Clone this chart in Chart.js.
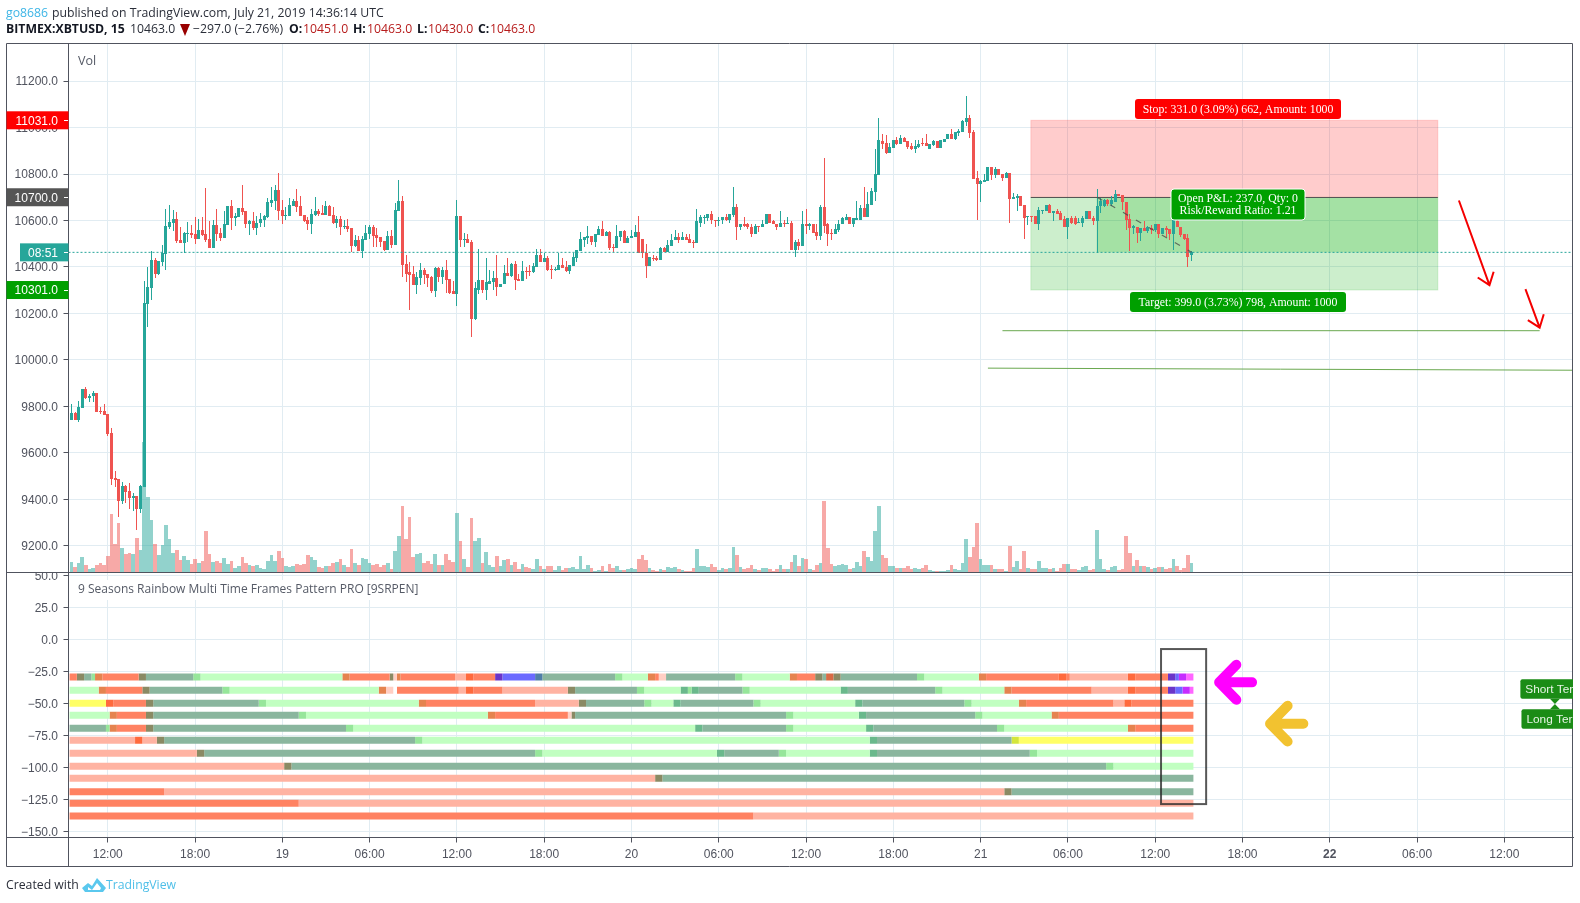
<!DOCTYPE html>
<html>
<head>
<meta charset="utf-8">
<title>XBTUSD 15</title>
<script src="https://cdn.jsdelivr.net/npm/chart.js@4"></script>
<style>
html,body{margin:0;padding:0;background:#fff;}
#wrap{position:relative;width:1580px;height:903px;overflow:hidden;}
canvas{position:absolute;left:0;top:0;}
.t{position:absolute;white-space:pre;font-family:"Open Sans",sans-serif;font-size:12.25px;line-height:16px;color:#2a2e39;}
.b{font-weight:700;color:#131722;}
.r{color:#b71c1c;}
</style>
</head>
<body>
<div id="wrap">
<canvas id="c" width="1580" height="903"></canvas>
<span class="t" style="left:6px;top:5px;color:#3db5e6;">go8686</span>
<span class="t" style="left:52px;top:5px;">published on TradingView.com, July 21, 2019 14:36:14 UTC</span>
<span class="t b" style="left:6px;top:21px;">BITMEX:XBTUSD, 15</span>
<span class="t" style="left:130px;top:21px;">10463.0</span>
<div style="position:absolute;left:180px;top:24px;width:0;height:0;border-left:5px solid transparent;border-right:5px solid transparent;border-top:12px solid #990000;"></div>
<span class="t" style="left:193px;top:21px;">−297.0 (−2.76%)</span>
<span class="t b" style="left:289px;top:21px;">O:</span><span class="t r" style="left:303px;top:21px;">10451.0</span>
<span class="t b" style="left:353px;top:21px;">H:</span><span class="t r" style="left:367px;top:21px;">10463.0</span>
<span class="t b" style="left:417px;top:21px;">L:</span><span class="t r" style="left:428px;top:21px;">10430.0</span>
<span class="t b" style="left:478px;top:21px;">C:</span><span class="t r" style="left:490px;top:21px;">10463.0</span>
<span class="t" style="left:6px;top:877px;">Created with</span>
<svg style="position:absolute;left:82px;top:878px" width="24" height="15" viewBox="0 0 24 15"><path d="M0 10 L6 5 L10 8 L15 0 L24 10 L21 14 L3 14 Z" fill="#5ac8ee"/><path d="M6 9 L10 12 L15 5 L19 10 L18 12 L6 12 Z" fill="#ffffff"/></svg>
<span class="t" style="left:106px;top:877px;color:#4fbfe8;">TradingView</span>
</div>
<script>
const opens=[9741,9770,9741,9793,9874,9837,9847,9857,9780,9780,9767,9686,9492,9488,9394,9458,9437,9407,9415,9360,
9454,10243,10308,10429,10372,10420,10456,10571,10588,10606,10515,10502,10541,10545,10541,10519,10558,10541,10519,10480,
10580,10545,10524,10580,10662,10610,10614,10653,10640,10584,10597,10567,10588,10602,10614,10675,10684,10731,10645,10619,
10619,10662,10684,10662,10623,10601,10584,10623,10640,10632,10623,10662,10623,10588,10606,10571,10576,10567,10489,10515,
10468,10515,10541,10571,10537,10528,10511,10472,10532,10493,10640,10684,10411,10377,10368,10321,10351,10385,10368,10355,
10295,10394,10355,10385,10347,10295,10286,10619,10515,10519,10506,10178,10303,10342,10303,10329,10334,10351,10312,10325,
10373,10360,10411,10347,10338,10381,10381,10377,10399,10450,10420,10437,10390,10385,10385,10407,10398,10381,10403,10437,
10468,10515,10524,10532,10506,10537,10563,10532,10550,10485,10480,10528,10554,10502,10524,10528,10550,10519,10459,10403,
10440,10440,10431,10483,10466,10492,10514,10527,10514,10527,10522,10509,10505,10591,10609,10609,10630,10604,10596,10600,
10613,10600,10622,10660,10570,10587,10587,10574,10544,10578,10570,10583,10626,10596,10587,10570,10591,10583,10591,10475,
10509,10492,10587,10578,10587,10552,10535,10660,10583,10548,10540,10561,10583,10604,10617,10587,10604,10604,10652,10617,
10665,10721,10794,10941,10932,10889,10911,10946,10928,10954,10941,10920,10907,10915,10932,10932,10909,10923,10944,10910,
10939,10949,10971,10949,10975,10980,11023,11041,10980,10784,10758,10767,10771,10828,10797,10823,10801,10784,10806,10693,
10697,10706,10667,10613,10619,10619,10584,10640,10640,10667,10632,10640,10632,10606,10571,10610,10610,10588,10588,10606,
10641,10610,10597,10662,10662,10688,10671,10680,10714,10710,10680,10606,10567,10571,10545,10567,10554,10567,10558,10584,
10541,10567,10562,10541,10597,10571,10540,10523,10451];
const highs=[9810,9776,9823,9874,9883,9853,9866,9857,9797,9810,9767,9707,9523,9488,9475,9463,9471,9428,9415,9463,
10338,10398,10468,10437,10424,10493,10649,10666,10645,10636,10571,10550,10593,10580,10614,10606,10614,10740,10597,10601,
10649,10567,10640,10662,10688,10632,10653,10753,10640,10601,10636,10619,10632,10623,10696,10744,10753,10804,10688,10658,
10696,10692,10735,10705,10623,10614,10649,10701,10649,10666,10684,10666,10658,10619,10619,10601,10606,10567,10537,10532,
10532,10580,10580,10580,10567,10528,10511,10554,10560,10675,10774,10705,10450,10420,10403,10377,10416,10394,10368,10360,
10398,10398,10398,10429,10347,10338,10688,10619,10545,10541,10515,10334,10476,10342,10437,10385,10381,10450,10329,10407,
10437,10416,10424,10368,10424,10398,10407,10416,10476,10476,10459,10446,10407,10398,10459,10437,10424,10407,10459,10472,
10550,10528,10576,10532,10541,10576,10597,10554,10554,10498,10580,10554,10558,10532,10558,10580,10619,10519,10498,10442,
10453,10449,10488,10488,10514,10540,10557,10548,10552,10544,10544,10514,10648,10622,10622,10630,10643,10604,10613,10617,
10626,10630,10743,10673,10587,10617,10591,10587,10587,10578,10604,10630,10626,10600,10587,10643,10604,10617,10596,10514,
10522,10639,10648,10591,10587,10583,10665,10868,10591,10565,10583,10604,10617,10630,10617,10609,10682,10665,10743,10721,
10738,10906,11040,10971,10967,10932,10946,10959,10967,10959,10941,10933,10946,10946,10955,10971,10928,10945,10944,10945,
10952,10971,10993,10980,10994,11032,11136,11054,10988,10815,10775,10801,10828,10828,10828,10823,10801,10810,10806,10719,
10714,10706,10667,10619,10619,10619,10658,10645,10667,10671,10640,10650,10640,10619,10610,10619,10619,10610,10619,10641,
10641,10619,10736,10697,10692,10692,10706,10732,10714,10710,10680,10627,10580,10571,10567,10597,10578,10580,10584,10584,
10567,10575,10562,10601,10601,10571,10540,10540,10470];
const lows=[9741,9741,9734,9793,9833,9819,9819,9776,9767,9763,9673,9462,9454,9325,9381,9385,9360,9351,9270,9342,
9454,10141,10260,10351,10364,10403,10385,10563,10554,10502,10502,10462,10506,10524,10498,10519,10532,10506,10480,10480,
10511,10511,10524,10580,10558,10576,10614,10623,10567,10537,10558,10537,10571,10571,10610,10658,10645,10601,10584,10601,
10619,10662,10636,10619,10593,10558,10541,10619,10619,10623,10623,10619,10584,10567,10537,10563,10550,10463,10485,10468,
10437,10515,10519,10485,10485,10485,10468,10472,10480,10493,10640,10355,10334,10213,10321,10282,10321,10329,10312,10290,
10273,10334,10329,10290,10286,10282,10234,10485,10485,10502,10100,10174,10282,10290,10260,10325,10303,10277,10312,10325,
10360,10355,10303,10338,10338,10347,10360,10373,10399,10420,10420,10381,10347,10381,10385,10394,10377,10368,10403,10420,
10468,10485,10498,10493,10485,10537,10532,10532,10472,10463,10480,10510,10502,10502,10524,10528,10459,10437,10351,10403,
10427,10427,10431,10466,10466,10492,10514,10505,10514,10514,10505,10483,10505,10574,10583,10596,10583,10574,10578,10587,
10596,10591,10613,10514,10561,10574,10565,10527,10544,10552,10570,10583,10591,10583,10557,10570,10570,10583,10475,10444,
10475,10492,10544,10557,10548,10514,10518,10548,10492,10518,10540,10552,10583,10604,10587,10574,10600,10604,10613,10617,
10665,10682,10794,10907,10885,10889,10911,10924,10928,10937,10906,10902,10889,10911,10919,10919,10909,10919,10910,10910,
10939,10949,10949,10945,10962,10980,11007,10954,10780,10601,10680,10767,10771,10775,10784,10797,10771,10784,10588,10693,
10640,10662,10519,10580,10593,10584,10558,10627,10640,10632,10597,10627,10601,10571,10519,10584,10580,10588,10571,10606,
10606,10580,10461,10632,10657,10663,10663,10680,10706,10647,10558,10467,10540,10503,10510,10554,10545,10541,10550,10523,
10541,10530,10514,10475,10571,10531,10515,10398,10427];
const closes=[9770,9741,9797,9874,9837,9847,9856,9776,9776,9763,9681,9488,9484,9394,9458,9432,9407,9415,9360,9458,
10247,10312,10429,10372,10424,10460,10576,10593,10606,10511,10502,10545,10545,10537,10519,10558,10537,10515,10480,10580,
10541,10524,10584,10662,10610,10619,10653,10636,10584,10597,10567,10588,10606,10619,10679,10688,10731,10640,10619,10623,
10666,10684,10658,10619,10597,10584,10627,10640,10627,10623,10662,10619,10588,10606,10571,10576,10563,10489,10515,10468,
10519,10545,10571,10532,10524,10506,10472,10532,10493,10645,10684,10407,10372,10364,10321,10355,10385,10364,10351,10295,
10394,10355,10385,10342,10290,10286,10619,10515,10519,10502,10178,10308,10342,10303,10334,10338,10351,10312,10329,10373,
10360,10411,10342,10338,10381,10377,10377,10403,10450,10420,10437,10385,10385,10390,10407,10394,10381,10407,10442,10472,
10519,10528,10532,10506,10541,10563,10532,10550,10480,10480,10532,10554,10502,10524,10532,10550,10459,10459,10403,10442,
10436,10431,10483,10466,10496,10518,10527,10514,10527,10518,10505,10505,10596,10613,10613,10630,10600,10596,10604,10613,
10600,10626,10660,10570,10587,10578,10570,10544,10578,10570,10587,10626,10591,10583,10570,10591,10583,10591,10475,10509,
10492,10587,10578,10587,10548,10535,10660,10578,10544,10540,10565,10587,10609,10617,10587,10609,10609,10652,10617,10673,
10725,10799,10945,10928,10889,10915,10946,10928,10954,10937,10915,10907,10920,10928,10928,10919,10928,10941,10910,10945,
10952,10971,10949,10980,10986,11028,11041,10975,10780,10758,10771,10775,10828,10797,10823,10797,10784,10806,10693,10701,
10706,10662,10610,10619,10613,10584,10645,10645,10667,10632,10640,10627,10601,10571,10610,10588,10584,10593,10610,10641,
10606,10597,10662,10684,10688,10671,10688,10714,10706,10680,10601,10567,10575,10545,10567,10554,10571,10558,10584,10541,
10567,10558,10541,10601,10571,10536,10519,10445,10463];
const volumes=[31,16,28,46,22,10,13,22,28,22,49,175,85,148,73,55,58,55,103,67,
391,226,157,85,52,82,142,100,58,67,37,49,37,25,40,28,34,124,55,31,
34,28,43,25,34,13,19,46,28,22,19,22,13,10,34,52,34,64,43,19,
16,19,25,22,25,52,46,37,16,13,19,19,28,31,40,22,16,70,28,22,
43,40,28,22,25,16,22,28,10,64,109,199,100,166,46,55,58,28,34,25,
55,22,22,55,37,31,178,94,40,16,163,94,103,28,61,22,16,49,19,37,
40,22,31,10,25,16,13,10,40,19,10,19,19,7,19,8,14,14,17,11,
50,11,23,14,5,8,20,5,26,14,20,8,8,11,14,11,41,53,38,14,
8,5,11,8,17,14,17,11,8,5,5,14,71,20,20,17,26,17,8,14,
11,14,77,53,17,11,14,23,11,8,14,14,11,5,11,23,11,11,32,53,
20,44,41,11,8,23,29,215,74,26,20,23,26,23,11,14,32,20,65,47,
35,125,200,53,44,20,20,14,14,14,20,11,14,11,14,23,8,5,5,5,
5,8,23,11,8,29,101,47,77,149,41,23,23,23,11,11,11,5,80,17,
35,11,65,14,11,11,35,14,14,11,14,5,14,26,26,11,11,8,17,20,
8,11,128,41,11,8,17,20,8,11,110,59,20,38,20,20,17,11,14,17,
17,11,14,41,20,8,14,53,29];
const priceTicks=[9200,9400,9600,9800,10000,10200,10400,10600,10800,11000,11200];
const indicatorTicks=[50,25,0,-25,-50,-75,-100,-125,-150];
const timeTickBars=[10,34,58,82,106,130,154,178,202,226,250,274,298,322,346,370,394];
const timeTickLabels=['12:00','18:00','19','06:00','12:00','18:00','20','06:00','12:00','18:00','21','06:00','12:00','18:00','22','06:00','12:00'];
const rowLevels=[-29.5,-39.8,-50,-59.4,-69.5,-78.9,-89,-99.2,-108.6,-119,-128,-138];
const row1=[[0,'S'],[2,'Ol'],[4,'D'],[6,'M'],[7,'Or'],[9,'S'],[19,'Ol'],[21,'D'],[34,'M'],[36,'L'],[75,'Or'],[77,'S'],[88,'Ol'],[89,'P'],[90,'Or'],[91,'S'],[106,'Ls'],[109,'St'],[111,'S'],[117,'Pu'],[119,'B'],[128,'Sb'],[130,'D'],[150,'M'],[152,'L'],[159,'Or'],[161,'S'],[162,'P'],[164,'D'],[183,'M'],[185,'L'],[198,'Or'],[200,'S'],[205,'Ol'],[207,'D'],[208,'Rb'],[210,'Ol'],[212,'D'],[233,'M'],[235,'L'],[250,'Or'],[252,'S'],[272,'St'],[274,'S'],[275,'Ls'],[291,'St'],[293,'S'],[302,'Pu'],[304,'B'],[305,'V'],[307,'Pk']];
const row2=[[0,'L'],[8,'Or'],[10,'S'],[20,'Ol'],[22,'D'],[42,'M'],[44,'L'],[85,'Or'],[87,'P'],[89,'W'],[90,'S'],[107,'Ls'],[109,'St'],[111,'S'],[119,'Ls'],[137,'Ol'],[139,'D'],[156,'M'],[158,'L'],[168,'T'],[170,'M'],[171,'T'],[173,'D'],[185,'M'],[187,'L'],[212,'T'],[214,'D'],[238,'M'],[240,'L'],[257,'Or'],[259,'S'],[281,'Ls'],[291,'St'],[293,'S'],[302,'Pu'],[304,'B'],[306,'V'],[308,'Pk']];
const row3=[[0,'Y'],[10,'St'],[12,'S'],[21,'Ol'],[23,'D'],[52,'M'],[54,'L'],[96,'Or'],[98,'S'],[128,'Ls'],[140,'Ol'],[142,'D'],[158,'M'],[160,'L'],[166,'T'],[168,'D'],[188,'M'],[190,'L'],[216,'T'],[218,'D'],[246,'M'],[248,'L'],[261,'Or'],[263,'S'],[287,'Ls'],[290,'St'],[292,'S']];
const row4=[[0,'L'],[11,'Or'],[13,'S'],[21,'Ol'],[23,'D'],[63,'M'],[65,'L'],[115,'Or'],[117,'S'],[137,'P'],[138,'Ol'],[139,'D'],[197,'M'],[199,'L'],[217,'T'],[219,'D'],[249,'M'],[251,'L'],[270,'Or'],[272,'S']];
const row5=[[0,'D'],[10,'M'],[11,'Or'],[13,'S'],[21,'Ol'],[23,'D'],[76,'M'],[78,'L'],[172,'T'],[174,'D'],[197,'M'],[199,'L'],[219,'T'],[221,'D'],[255,'M'],[257,'L'],[291,'Or'],[293,'S']];
const row6=[[0,'Ls'],[18,'St'],[20,'Ls'],[24,'Ol'],[26,'D'],[95,'M'],[97,'L'],[220,'T'],[222,'D'],[259,'Yg'],[261,'Y']];
const row7=[[0,'Ls'],[35,'Ol'],[37,'D'],[128,'M'],[130,'L'],[178,'T'],[180,'D'],[195,'M'],[197,'L'],[220,'T'],[222,'D'],[264,'M'],[266,'L']];
const row8=[[0,'Ls'],[59,'Ol'],[61,'D'],[285,'M'],[287,'L']];
const row9=[[0,'Ls'],[161,'Ol'],[163,'D']];
const row10=[[0,'S'],[26,'Ls'],[257,'Ol'],[259,'D']];
const row11=[[0,'S'],[63,'Ls']];
const row12=[[0,'S'],[188,'Ls']];
const rowRuns=[row1,row2,row3,row4,row5,row6,row7,row8,row9,row10,row11,row12];
const palette={D:'#8ab69e',L:'#c1ffc1',M:'#96e69a',T:'#6ab98c',S:'#ff8262',Ls:'#ffb3a2',P:'#ffcfc4',Or:'#e5834f',St:'#ff6a3d',Ol:'#8a8a64',Rb:'#d96b45',Y:'#ffff66',Yg:'#d4e63c',Pu:'#6a35c8',B:'#6a6aff',Sb:'#4f7fa8',V:'#c62cff',Pk:'#ff66ff',W:'#ffffff'};

const UP='#26a69a',DOWN='#ef5350',UPV='rgba(38,166,154,0.5)',DOWNV='rgba(239,83,80,0.5)';
const lastBar=opens.length-1;
const xMin=-0.797,xMax=412.87;
const barIdx=opens.map((_,i)=>i);
const isUp=i=>closes[i]>=opens[i];
const datasets=[];
rowRuns.forEach((runs,r)=>{
  runs.forEach((run,k)=>{
    const end=k+1<runs.length?runs[k+1][0]:lastBar+1;
    datasets.push({type:'line',yAxisID:'ind',order:10,borderColor:palette[run[1]],borderWidth:7,borderCapStyle:'butt',pointRadius:0,
      data:[{x:run[0]-0.5,y:rowLevels[r]},{x:end-0.5,y:rowLevels[r]}]});
  });
});
datasets.push({type:'bar',yAxisID:'vol',order:9,snap:'vol',grouped:false,barThickness:3.637,inflateAmount:0,borderWidth:0,
  backgroundColor:barIdx.map(i=>isUp(i)?UPV:DOWNV),data:barIdx.map(i=>({x:i,y:volumes[i]}))});
datasets.push({type:'bar',yAxisID:'price',order:6,snap:'wick',grouped:false,barThickness:1,inflateAmount:0,borderWidth:0,
  backgroundColor:barIdx.map(i=>isUp(i)?UP:DOWN),data:barIdx.map(i=>({x:i,y:[lows[i],highs[i]]}))});
datasets.push({type:'bar',yAxisID:'price',order:5,snap:'body',grouped:false,barThickness:3,inflateAmount:0,borderWidth:0,
  backgroundColor:barIdx.map(i=>isUp(i)?UP:DOWN),data:barIdx.map(i=>({x:i,y:[Math.min(opens[i],closes[i]),Math.max(opens[i],closes[i])]}))});
const trend1=[{x:256,y:10126},{x:403.7,y:10126}];
const trend2=[{x:252,y:9965},{x:xMax,y:9956}];
const tradeLine=[{x:282,y:10700},{x:308,y:10463}];
const lastPriceLine=[{x:xMin,y:10463},{x:xMax,y:10463}];
datasets.push({type:'line',yAxisID:'price',order:3,borderColor:'#6aa84f',borderWidth:1,pointRadius:0,data:trend1});
datasets.push({type:'line',yAxisID:'price',order:3,borderColor:'#6aa84f',borderWidth:1,pointRadius:0,data:trend2});
datasets.push({type:'line',yAxisID:'price',order:2,borderColor:'#26a69a',borderWidth:1,borderDash:[2,2],pointRadius:0,data:lastPriceLine});
datasets.push({type:'line',yAxisID:'price',order:1,borderColor:'rgba(70,70,70,0.75)',borderWidth:1.2,borderDash:[6,9],pointRadius:0,data:tradeLine});

const snapPlugin={id:'snap',afterDatasetsUpdate(chart){
  chart.data.datasets.forEach((ds,k)=>{
    if(!ds.snap)return;
    chart.getDatasetMeta(k).data.forEach(el=>{
      if(ds.snap==='vol'){
        const l=Math.round(el.x-1.82),r=Math.round(el.x+1.82);
        el.x=(l+r)/2;el.width=r-l;
      }else{
        const l=Math.round(el.x-1.5);
        el.x=l+1.5;el.width=ds.snap==='wick'?1:3;
      }
      el.y=Math.round(el.y);el.base=Math.round(el.base);
      if(el.base===el.y)el.base=el.y+1;
    });
  });
}};

const entry=10700,stop=11031,target=10301,last=10463,boxL=263.8,boxR=375.7,fillStart=281.9;
const tags=[{text:'11031.0',price:11031,color:'#ff0000',left:6.5},{text:'10700.0',price:10700,color:'#555555',left:6.5},{text:'08:51',price:10463,color:'#26a69a',left:20},{text:'10301.0',price:10301,color:'#00a000',left:6.5}];
const redArrows=[[381.5,10686,389.9,10322],[399.8,10305,403.7,10139]];
const blockArrows=[{color:'#ff00ff',tip:314.2,tail:326,arm:320.3,v:-33.6,dv:17.6},{color:'#f2c230',tip:328.2,tail:340.1,arm:334.4,v:-65.9,dv:17.85}];

const overlay={id:'overlay',
 beforeDatasetsDraw(chart){
  const c=chart.ctx,X=chart.scales.x,P=chart.scales.price;
  const l=X.getPixelForValue(boxL),r=X.getPixelForValue(boxR),f=X.getPixelForValue(fillStart);
  const e=P.getPixelForValue(entry),s=P.getPixelForValue(stop),t=P.getPixelForValue(target),q=P.getPixelForValue(last);
  c.save();
  c.fillStyle='rgba(255,0,0,0.2)';c.fillRect(l,s,r-l,e-s);
  c.fillStyle='rgba(0,168,0,0.2)';c.fillRect(l,e,r-l,t-e);
  c.fillRect(f,e,r-f,q-e);
  c.strokeStyle='rgba(255,0,0,0.15)';c.strokeRect(l,s,r-l,e-s);
  c.strokeStyle='rgba(0,168,0,0.15)';c.strokeRect(l,e,r-l,t-e);
  c.strokeStyle='#555555';c.lineWidth=1;c.beginPath();c.moveTo(l,Math.round(e)+.5);c.lineTo(r,Math.round(e)+.5);c.stroke();
  c.restore();
 },
 afterDraw(chart){
  const c=chart.ctx,X=chart.scales.x,P=chart.scales.price,V=chart.scales.ind;
  const a=chart.chartArea;
  c.save();
  // strip hiding the top of the clipped 50.0 tick label, pane divider and frame
  c.fillStyle='#fff';c.fillRect(7,562,61,10);
  const axisText='#50535e';
  c.strokeStyle=axisText;c.lineWidth=1;
  c.beginPath();
  c.rect(6.5,43.5,1566,823);
  c.moveTo(6.5,572.5);c.lineTo(1573,572.5);
  c.moveTo(6.5,837.5);c.lineTo(1573,837.5);
  c.moveTo(68.5,43.5);c.lineTo(68.5,866);
  c.stroke();
  // pane titles
  c.textBaseline='middle';c.textAlign='left';
  c.font='12.5px "Open Sans",sans-serif';
  c.fillStyle='#555a66';c.fillText('Vol',78,61);
  c.fillStyle='#fff';c.fillRect(76,580,348,20);
  c.font='12px "Open Sans",sans-serif';
  c.fillStyle='#555a66';c.fillText('9 Seasons Rainbow Multi Time Frames Pattern PRO [9SRPEN]',78,590);
  // price tags
  c.font='12px "Liberation Sans",sans-serif';
  tags.forEach(t=>{
    const y=P.getPixelForValue(t.price);
    c.fillStyle=t.color;c.fillRect(t.left,y-9,68.5-t.left,18);
    c.fillStyle='#fff';c.textAlign='right';c.fillText(t.text,58,y+1);
    c.fillRect(64,Math.round(y),4,1);
  });
  // position tool labels
  const pill=(x0,y0,x1,y1,fill,lines,border)=>{
    c.beginPath();c.roundRect(x0,y0,x1-x0,y1-y0,3);c.fillStyle=fill;c.fill();
    if(border){c.strokeStyle='#ffffff';c.lineWidth=1;c.stroke();}
    c.fillStyle='#fff';c.textAlign='center';c.font='11.8px "Liberation Serif",serif';
    lines.forEach((s,i)=>c.fillText(s,(x0+x1)/2,(y0+y1)/2+(i-(lines.length-1)/2)*12.5+.5));
  };
  pill(1135,99,1341,119,'#ff0000',['Stop: 331.0 (3.09%) 662, Amount: 1000']);
  pill(1130,292,1346,312,'#00a000',['Target: 399.0 (3.73%) 798, Amount: 1000']);
  pill(1171,189,1305,220,'#00a000',['Open P&L: 237.0, Qty: 0','Risk/Reward Ratio: 1.21'],true);
  // red freehand arrows
  c.strokeStyle='#f40000';c.lineWidth=2;c.lineJoin='miter';
  redArrows.forEach(ar=>{
    const x0=X.getPixelForValue(ar[0]),y0=P.getPixelForValue(ar[1]),x1=X.getPixelForValue(ar[2]),y1=P.getPixelForValue(ar[3]);
    const ang=Math.atan2(y1-y0,x1-x0);
    c.beginPath();c.moveTo(x0,y0);c.lineTo(x1,y1);
    c.moveTo(x1+14*Math.cos(ang+Math.PI-.65),y1+14*Math.sin(ang+Math.PI-.65));
    c.lineTo(x1,y1);
    c.lineTo(x1+14*Math.cos(ang+Math.PI+.65),y1+14*Math.sin(ang+Math.PI+.65));
    c.stroke();
  });
  // highlight box and block arrows
  c.strokeStyle='rgba(40,40,40,0.78)';c.lineWidth=2;
  c.strokeRect(X.getPixelForValue(299.6),V.getPixelForValue(-7.6),X.getPixelForValue(312)-X.getPixelForValue(299.6),V.getPixelForValue(-128.7)-V.getPixelForValue(-7.6));
  blockArrows.forEach(b=>{
    c.strokeStyle=b.color;c.lineWidth=10;c.lineCap='round';c.lineJoin='round';
    const y=V.getPixelForValue(b.v);
    c.beginPath();
    c.moveTo(X.getPixelForValue(b.tail)-5,y);c.lineTo(X.getPixelForValue(b.tip)+5,y);
    c.moveTo(X.getPixelForValue(b.arm),V.getPixelForValue(b.v+b.dv)+5);
    c.lineTo(X.getPixelForValue(b.tip)+5,y);
    c.lineTo(X.getPixelForValue(b.arm),V.getPixelForValue(b.v-b.dv)-5);
    c.stroke();
  });
  // clipped term labels at the right edge
  c.save();
  c.beginPath();c.rect(a.left,a.top,a.right-a.left,a.bottom-a.top);c.clip();
  c.fillStyle='#1b8c16';
  const lbl=(x0,y0,y1,tipY,text)=>{
    const cx=X.getPixelForValue(407.9);
    c.beginPath();c.roundRect(X.getPixelForValue(x0),V.getPixelForValue(y0),a.right+6-X.getPixelForValue(x0),V.getPixelForValue(y1)-V.getPixelForValue(y0),2);c.fill();
    const edge=tipY<y1?V.getPixelForValue(y1):V.getPixelForValue(y0);
    c.beginPath();c.moveTo(cx-5,edge);c.lineTo(cx,V.getPixelForValue(tipY));c.lineTo(cx+5,edge);c.closePath();c.fill();
    c.save();c.fillStyle='#e8f5e6';c.textAlign='left';c.font='11.8px "Liberation Sans",sans-serif';
    c.fillText(text,X.getPixelForValue(x0)+5,(V.getPixelForValue(y0)+V.getPixelForValue(y1))/2+.5);c.restore();
  };
  lbl(398.4,-31.25,-46.4,-50.5,'Short Ter');
  lbl(398.7,-54.7,-69.8,-50.5,'Long Ter');
  c.restore();
  c.restore();
 }};

// Nudges a scale's tick labels down so they sit where the reference prints them.
const nudgeLabels=(s,dy)=>{
  if(s._nudged)return;
  s._nudged=true;
  const orig=s._computeLabelItems;
  s._computeLabelItems=function(area){
    const items=orig.call(this,area);
    items.forEach(it=>{it.options.translation=[it.options.translation[0],it.options.translation[1]+dy];});
    return items;
  };
};
Chart.defaults.font.family='"Liberation Sans",sans-serif';
Chart.defaults.font.size=12;
Chart.defaults.color='#50535e';
const gridOpts={color:'#e1ecf2',lineWidth:1,tickColor:'#50535e',tickLength:5,offset:false};
new Chart(document.getElementById('c'),{
  type:'bar',
  data:{datasets},
  plugins:[snapPlugin,overlay],
  options:{
    responsive:false,animation:false,devicePixelRatio:1,
    layout:{padding:{left:6.5,right:7,top:43.5,bottom:37}},
    plugins:{legend:{display:false},tooltip:{enabled:false},title:{display:false}},
    events:[],
    scales:{
      x:{type:'linear',min:xMin,max:xMax,offset:false,
        afterBuildTicks(s){s.ticks=timeTickBars.map(v=>({value:v}));nudgeLabels(s,1);},
        afterFit(s){s.height=28.5;},
        grid:gridOpts,border:{color:'#50535e'},
        ticks:{autoSkip:false,maxRotation:0,minRotation:0,padding:4,color:'#50535e',
          callback(v){const k=timeTickBars.indexOf(v);return k<0?'':timeTickLabels[k];},
          font(ctx){return {weight:ctx.tick&&ctx.tick.label==='22'?'bold':'normal',size:12};}}},
      price:{type:'linear',position:'left',stack:'panes',stackWeight:529,weight:1,min:9086,max:11361.3,
        afterBuildTicks(s){s.ticks=priceTicks.map(v=>({value:v}));nudgeLabels(s,1);},
        afterFit(s){s.width=62;},
        grid:gridOpts,border:{color:'#50535e'},
        ticks:{autoSkip:false,padding:5.5,callback:v=>v.toFixed(1)}},
      ind:{type:'linear',position:'left',stack:'panes',stackWeight:265,weight:0,min:-154.8,max:52.2,
        afterBuildTicks(s){s.ticks=indicatorTicks.map(v=>({value:v}));nudgeLabels(s,1);},
        afterFit(s){s.width=62;},
        grid:gridOpts,border:{color:'#50535e'},
        ticks:{autoSkip:false,padding:5.5,callback:v=>v.toFixed(1).replace('-','\u2212')}},
      vol:{type:'linear',position:'right',display:false,min:-795,max:1587}
    }
  }
});
</script>
</body>
</html>
